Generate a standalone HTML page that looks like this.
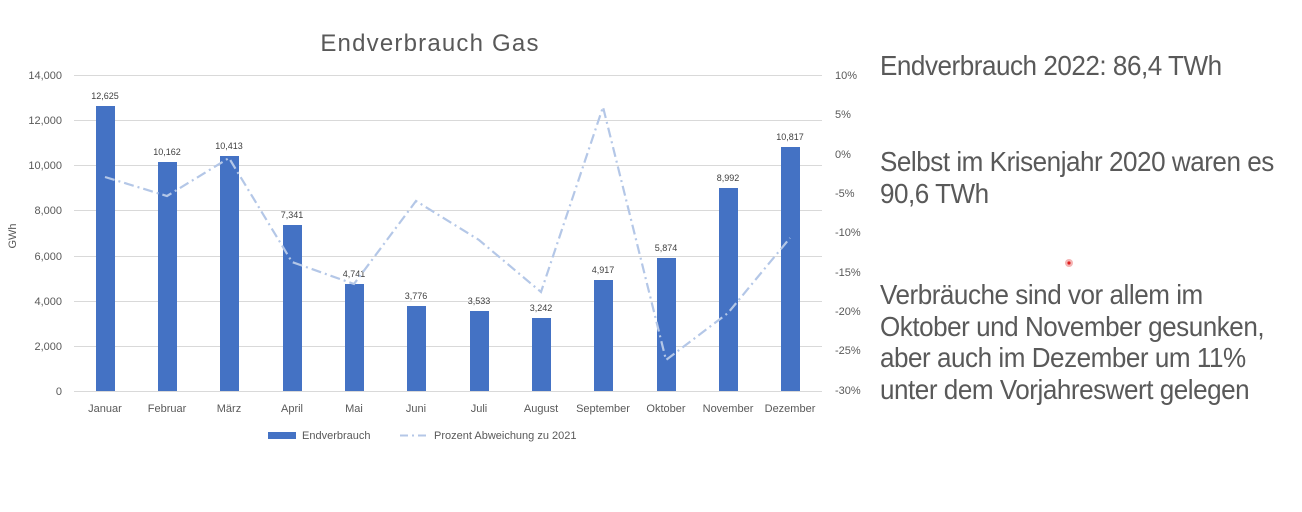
<!DOCTYPE html>
<html><head><meta charset="utf-8"><style>
body{margin:0;background:#fff;width:1302px;height:512px;overflow:hidden;font-family:"Liberation Sans",sans-serif}
.t{position:absolute;left:880px;color:#595959;font-size:28px;line-height:31.5px;letter-spacing:-0.5px;transform:scaleX(0.93);transform-origin:0 0;white-space:nowrap}
</style></head><body>
<svg width="1302" height="512" style="position:absolute;left:0;top:0" font-family="Liberation Sans, sans-serif">
<text x="430" y="51" font-size="24" fill="#595959" text-anchor="middle" letter-spacing="1.2">Endverbrauch Gas</text>
<g stroke="#d9d9d9" stroke-width="1">
<line x1="74" x2="822" y1="75.5" y2="75.5"/><line x1="74" x2="822" y1="120.5" y2="120.5"/>
<line x1="74" x2="822" y1="165.5" y2="165.5"/><line x1="74" x2="822" y1="210.5" y2="210.5"/>
<line x1="74" x2="822" y1="256.5" y2="256.5"/><line x1="74" x2="822" y1="301.5" y2="301.5"/>
<line x1="74" x2="822" y1="346.5" y2="346.5"/><line x1="74" x2="822" y1="391.5" y2="391.5"/>
</g>
<g font-size="11" fill="#595959" text-anchor="end">
<text x="62" y="79">14,000</text><text x="62" y="124">12,000</text><text x="62" y="169">10,000</text>
<text x="62" y="214">8,000</text><text x="62" y="260">6,000</text><text x="62" y="305">4,000</text>
<text x="62" y="350">2,000</text><text x="62" y="395">0</text>
</g>
<g font-size="11" fill="#595959">
<text x="835" y="79">10%</text><text x="835" y="118">5%</text><text x="835" y="158">0%</text>
<text x="835" y="197">-5%</text><text x="835" y="236">-10%</text><text x="835" y="276">-15%</text>
<text x="835" y="315">-20%</text><text x="835" y="354">-25%</text><text x="835" y="394">-30%</text>
</g>
<text x="16" y="236" font-size="11" fill="#595959" transform="rotate(-90 16 236)" text-anchor="middle">GWh</text>
<g fill="#4472c4">
<rect x="96" y="106" width="19" height="285"/><rect x="158" y="162" width="19" height="229"/>
<rect x="220" y="156" width="19" height="235"/><rect x="283" y="225" width="19" height="166"/>
<rect x="345" y="284" width="19" height="107"/><rect x="407" y="306" width="19" height="85"/>
<rect x="470" y="311" width="19" height="80"/><rect x="532" y="318" width="19" height="73"/>
<rect x="594" y="280" width="19" height="111"/><rect x="657" y="258" width="19" height="133"/>
<rect x="719" y="188" width="19" height="203"/><rect x="781" y="147" width="19" height="244"/>
</g>
<g font-size="9" fill="#404040" text-anchor="middle">
<text x="105" y="99">12,625</text><text x="167" y="155">10,162</text><text x="229" y="149">10,413</text>
<text x="292" y="218">7,341</text><text x="354" y="277">4,741</text><text x="416" y="299">3,776</text>
<text x="479" y="304">3,533</text><text x="541" y="311">3,242</text><text x="603" y="273">4,917</text>
<text x="666" y="251">5,874</text><text x="728" y="181">8,992</text><text x="790" y="140">10,817</text>
</g>
<polyline fill="none" stroke="#b4c7e7" stroke-width="2.2" stroke-dasharray="10,4,2,4"
points="105,177 167,196 229,158 292,262 354,284 416,201 479,240 541,292 603,107 666,360 728,313 790,238"/>
<g font-size="11" fill="#595959" text-anchor="middle">
<text x="105" y="412">Januar</text><text x="167" y="412">Februar</text><text x="229" y="412">März</text>
<text x="292" y="412">April</text><text x="354" y="412">Mai</text><text x="416" y="412">Juni</text>
<text x="479" y="412">Juli</text><text x="541" y="412">August</text><text x="603" y="412">September</text>
<text x="666" y="412">Oktober</text><text x="728" y="412">November</text><text x="790" y="412">Dezember</text>
</g>
<rect x="268" y="432" width="28" height="7" fill="#4472c4"/>
<text x="302" y="439" font-size="11" fill="#595959">Endverbrauch</text>
<line x1="400" x2="428" y1="435.5" y2="435.5" stroke="#b4c7e7" stroke-width="2" stroke-dasharray="8,4,2,4"/>
<text x="434" y="439" font-size="11" fill="#595959">Prozent Abweichung zu 2021</text>
<circle cx="1069" cy="263" r="4" fill="#f4b4b4"/><circle cx="1069" cy="263" r="1.6" fill="#e02020"/>
</svg>
<div class="t" style="top:50px">Endverbrauch 2022: 86,4 TWh</div>
<div class="t" style="top:146px">Selbst im Krisenjahr 2020 waren es<br>90,6 TWh</div>
<div class="t" style="top:279px">Verbräuche sind vor allem im<br>Oktober und November gesunken,<br>aber auch im Dezember um 11%<br>unter dem Vorjahreswert gelegen</div>
</body></html>
